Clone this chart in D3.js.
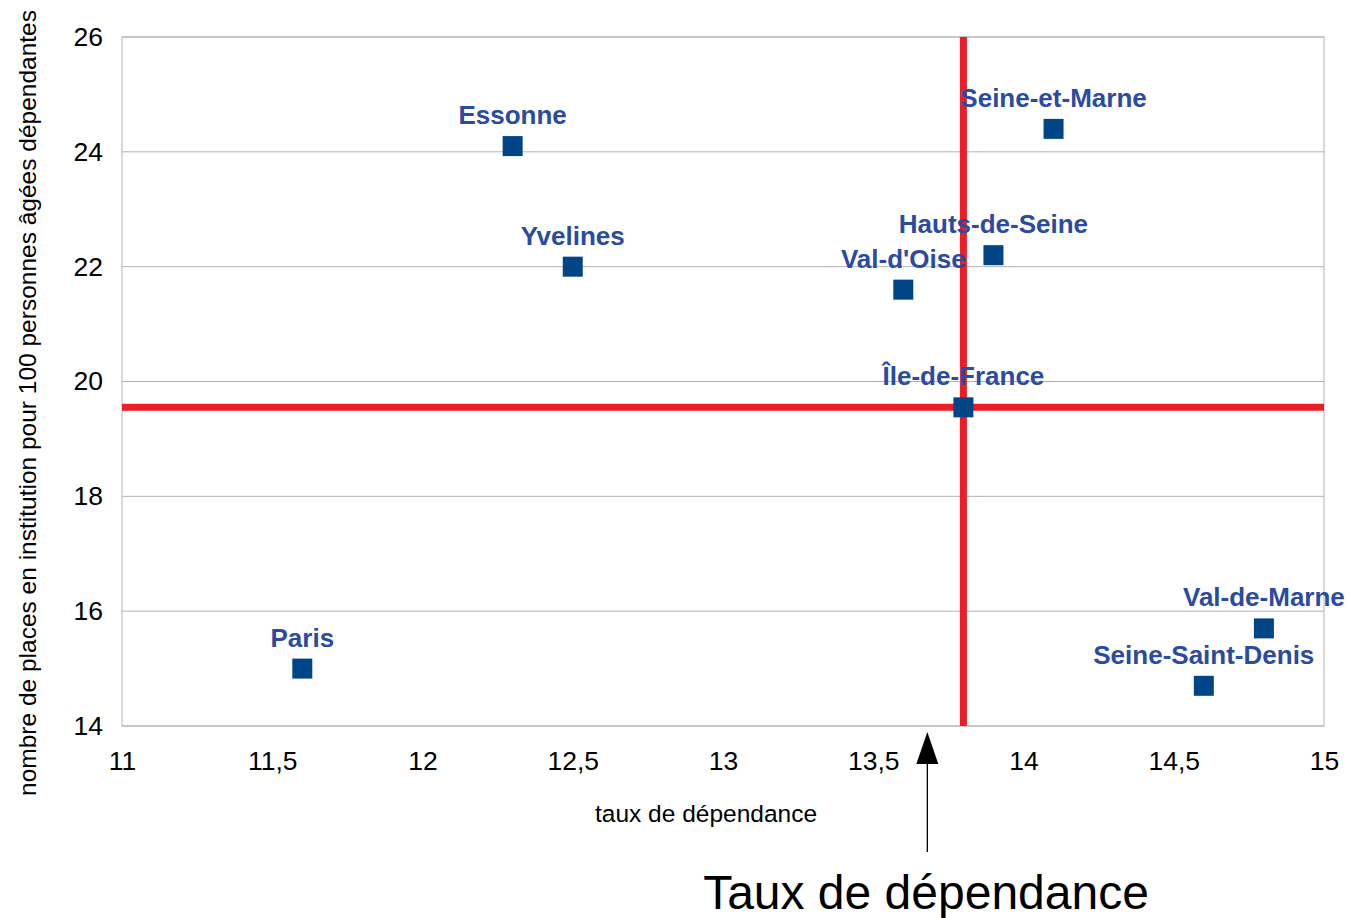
<!DOCTYPE html>
<html><head><meta charset="utf-8">
<script src="https://cdn.jsdelivr.net/npm/d3@7"></script>
<style>body{margin:0;background:#fff}svg{display:block}</style>
</head><body>
<svg id="c" width="1349" height="918"></svg>
<script>
const names = ["Essonne","Seine-et-Marne","Yvelines","Hauts-de-Seine","Val-d'Oise","Île-de-France","Paris","Val-de-Marne","Seine-Saint-Denis"];
const xValues = [12.3, 14.1, 12.5, 13.9, 13.6, 13.8, 11.6, 14.8, 14.6];
const yValues = [24.1, 24.4, 22.0, 22.2, 21.6, 19.55, 15.0, 15.7, 14.7];
const xTicks = [11, 11.5, 12, 12.5, 13, 13.5, 14, 14.5, 15];
const yTicks = [14, 16, 18, 20, 22, 24, 26];
const refX = 13.8, refY = 19.55;
const arrowX = 13.68;

const svg = d3.select("#c");
const L = 122, R = 1324, T = 37, B = 726;
const x = d3.scaleLinear().domain([11, 15]).range([L, R]);
const y = d3.scaleLinear().domain([14, 26]).range([B, T]);
const fmt = d => String(d).replace(".", ",");
const font = "'Liberation Sans', Arial, sans-serif";

// grid
svg.append("g").selectAll("line").data(yTicks).join("line")
  .attr("x1", L).attr("x2", R).attr("y1", d => y(d)).attr("y2", d => y(d))
  .attr("stroke", "#b3b3b3").attr("stroke-width", 1);
svg.append("rect").attr("x", L).attr("y", T).attr("width", R - L).attr("height", B - T)
  .attr("fill", "none").attr("stroke", "#b3b3b3").attr("stroke-width", 1);

// axes
const ya = svg.append("g").attr("transform", `translate(${L},0)`)
  .call(d3.axisLeft(y).tickValues(yTicks).tickFormat(fmt).tickSize(0).tickPadding(19));
ya.select(".domain").remove();
ya.selectAll("text").attr("font-family", font).attr("font-size", 26.5).attr("fill", "#000");
const xa = svg.append("g").attr("transform", `translate(0,${B})`)
  .call(d3.axisBottom(x).tickValues(xTicks).tickFormat(fmt).tickSize(0).tickPadding(25));
xa.select(".domain").remove();
xa.selectAll("text").attr("font-family", font).attr("font-size", 26.5).attr("fill", "#000");

// titles
svg.append("text").attr("x", 706).attr("y", 822).attr("text-anchor", "middle")
  .attr("font-family", font).attr("font-size", 24.5).text("taux de dépendance");
svg.append("text").attr("transform", "translate(36,403) rotate(-90)").attr("text-anchor", "middle")
  .attr("font-family", font).attr("font-size", 24.5).text("nombre de places en institution pour 100 personnes âgées dépendantes");

// red reference lines
svg.append("line").attr("x1", L).attr("x2", R).attr("y1", y(refY)).attr("y2", y(refY))
  .attr("stroke", "#ee1c25").attr("stroke-width", 7);
svg.append("line").attr("x1", x(refX)).attr("x2", x(refX)).attr("y1", T).attr("y2", B)
  .attr("stroke", "#ee1c25").attr("stroke-width", 7);

// points
const data = names.map((n, i) => ({n, x: xValues[i], y: yValues[i]}));
svg.append("g").selectAll("rect").data(data).join("rect")
  .attr("x", d => x(d.x) - 10).attr("y", d => y(d.y) - 10)
  .attr("width", 20).attr("height", 20).attr("fill", "#004586");
svg.append("g").selectAll("text").data(data).join("text")
  .attr("x", d => x(d.x)).attr("y", d => y(d.y) - 22)
  .attr("text-anchor", "middle").attr("font-family", font).attr("font-weight", "bold")
  .attr("font-size", 26).attr("fill", "#2a4b9f").text(d => d.n);

// arrow
const ax = x(arrowX);
svg.append("line").attr("x1", ax).attr("x2", ax).attr("y1", 852).attr("y2", 762)
  .attr("stroke", "#000").attr("stroke-width", 1.3);
svg.append("path").attr("d", `M${ax},732 L${ax - 11},764 L${ax + 11},764 Z`).attr("fill", "#000");
svg.append("text").attr("x", 926).attr("y", 909).attr("text-anchor", "middle")
  .attr("font-family", font).attr("font-size", 48).text("Taux de dépendance");
</script>
</body></html>
